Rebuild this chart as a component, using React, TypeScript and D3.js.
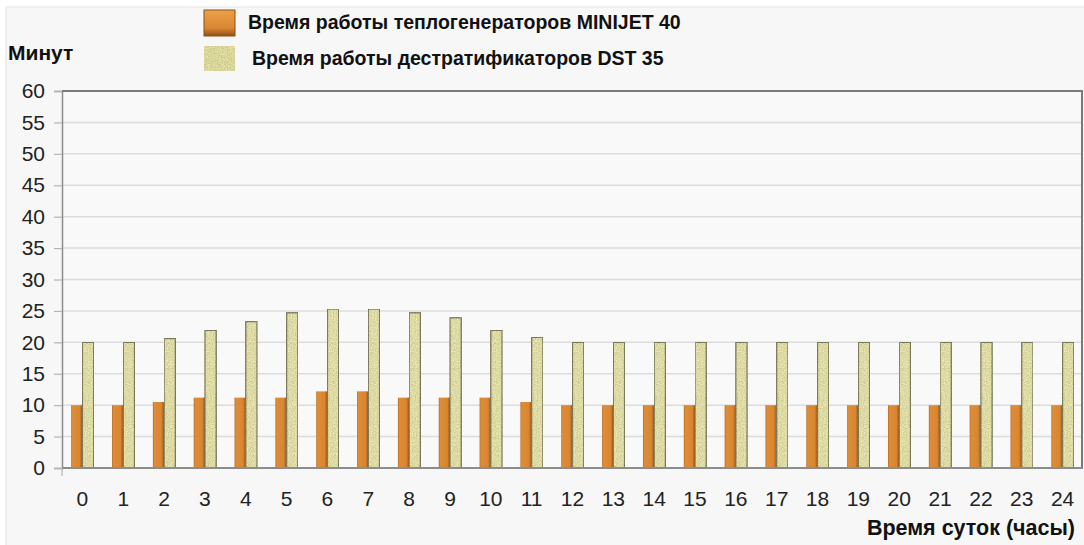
import React, { useEffect, useRef } from "react";
import * as d3 from "d3";

// hours of the day (x categories)
const hours = ["0", "1", "2", "3", "4", "5", "6", "7", "8", "9", "10", "11", "12",
    "13", "14", "15", "16", "17", "18", "19", "20", "21", "22", "23", "24"];

// minutes of work per hour, MINIJET 40 heaters
const minijet = [10, 10, 10.5, 11.2, 11.2, 11.2, 12.2, 12.2, 11.2, 11.2, 11.2, 10.5, 10,
    10, 10, 10, 10, 10, 10, 10, 10, 10, 10, 10, 10];

// minutes of work per hour, DST 35 destratificators
const dst = [20, 20, 20.6, 21.9, 23.3, 24.7, 25.3, 25.3, 24.7, 23.9, 21.9, 20.8, 20,
    20, 20, 20, 20, 20, 20, 20, 20, 20, 20, 20, 20];

const yTicks = [0, 5, 10, 15, 20, 25, 30, 35, 40, 45, 50, 55, 60];

const seriesKeys = ["minijet", "dst"];
const legendLabels = [
    "Время работы теплогенераторов MINIJET 40",
    "Время работы дестратификаторов DST 35"
];

const FONT = "'Liberation Sans', Arial, sans-serif";

export default function App() {
    const chartRef = useRef<SVGSVGElement>(null);

    useEffect(() => {
        drawChart();
    }, []);

    function drawChart() {
        const width = 1084;
        const height = 545;
        const margin = {top: 91, right: 1, bottom: 77, left: 62};

        const svg = d3.select(chartRef.current);
        svg.selectAll("*").remove();
        svg.attr("width", width).attr("height", height);

        // defs: orange shading + grainy texture for the green bars
        const defs = svg.append("defs");
        const grad = defs.append("linearGradient")
            .attr("id", "orangeGrad")
            .attr("x1", "0").attr("x2", "1").attr("y1", "0").attr("y2", "0");
        grad.append("stop").attr("offset", "0%").attr("stop-color", "#b86a22");
        grad.append("stop").attr("offset", "12%").attr("stop-color", "#de8c36");
        grad.append("stop").attr("offset", "75%").attr("stop-color", "#d98632");
        grad.append("stop").attr("offset", "100%").attr("stop-color", "#95561a");

        const swatchGrad = defs.append("linearGradient")
            .attr("id", "orangeSwatch")
            .attr("x1", "0").attr("x2", "0").attr("y1", "0").attr("y2", "1");
        swatchGrad.append("stop").attr("offset", "0%").attr("stop-color", "#eaa14a");
        swatchGrad.append("stop").attr("offset", "70%").attr("stop-color", "#d98632");
        swatchGrad.append("stop").attr("offset", "100%").attr("stop-color", "#8e4f14");

        const filter = defs.append("filter")
            .attr("id", "grain")
            .attr("x", 0).attr("y", 0).attr("width", 1).attr("height", 1);
        filter.append("feTurbulence")
            .attr("type", "fractalNoise")
            .attr("baseFrequency", 0.7)
            .attr("numOctaves", 2)
            .attr("seed", 3)
            .attr("result", "noise");
        filter.append("feColorMatrix")
            .attr("in", "noise")
            .attr("type", "matrix")
            .attr("values", "0.33 0.33 0.33 0 0  0.33 0.33 0.33 0 0  0.33 0.33 0.33 0 0  0 0 0 0 1")
            .attr("result", "gray");
        const stretch = filter.append("feComponentTransfer")
            .attr("in", "gray")
            .attr("result", "grayS");
        ["feFuncR", "feFuncG", "feFuncB"].forEach(f =>
            stretch.append(f).attr("type", "linear").attr("slope", 3).attr("intercept", -1));
        filter.append("feComposite")
            .attr("in", "SourceGraphic")
            .attr("in2", "grayS")
            .attr("operator", "arithmetic")
            .attr("k1", 0.4).attr("k2", 0.78).attr("k3", 0).attr("k4", 0)
            .attr("result", "tex");
        filter.append("feComposite")
            .attr("in", "tex")
            .attr("in2", "SourceGraphic")
            .attr("operator", "in");

        // panel background
        svg.append("rect")
            .attr("width", width).attr("height", height)
            .attr("fill", "#ffffff");
        svg.append("rect")
            .attr("x", 6).attr("y", 7)
            .attr("width", width).attr("height", height)
            .attr("fill", "#f7f7f7")
            .attr("stroke", "#e4e4e4");

        const innerW = width - margin.left - margin.right;
        const innerH = height - margin.top - margin.bottom;

        const x0 = d3.scaleBand()
            .domain(hours)
            .range([margin.left, margin.left + innerW])
            .paddingInner(0.45)
            .paddingOuter(0.225);

        const x1 = d3.scaleBand()
            .domain(seriesKeys)
            .range([0, x0.bandwidth()]);

        const y = d3.scaleLinear()
            .domain([0, 60])
            .range([margin.top + innerH, margin.top]);

        // plot area
        svg.append("rect")
            .attr("x", margin.left).attr("y", margin.top)
            .attr("width", innerW).attr("height", innerH)
            .attr("fill", "#f9f9f9");

        // horizontal grid
        svg.append("g")
            .selectAll("line")
            .data(yTicks.filter(d => d > 0 && d < 60))
            .enter().append("line")
            .attr("x1", margin.left).attr("x2", margin.left + innerW)
            .attr("y1", d => y(d)).attr("y2", d => y(d))
            .attr("stroke", "#dcdcdc")
            .attr("stroke-width", 1.5);

        // y ticks + labels
        const yAxis = svg.append("g")
            .attr("transform", `translate(${margin.left},0)`)
            .call(d3.axisLeft(y).tickValues(yTicks).tickSize(8).tickPadding(9));
        yAxis.select(".domain").attr("stroke", "#8c8c8c").attr("stroke-width", 1.5);
        yAxis.selectAll(".tick line").attr("stroke", "#b4b4b4").attr("stroke-width", 1.2);
        yAxis.selectAll(".tick text")
            .attr("fill", "#222")
            .style("font-family", FONT)
            .style("font-size", "21px");

        // top and right frame
        svg.append("line")
            .attr("x1", margin.left).attr("x2", margin.left + innerW)
            .attr("y1", margin.top).attr("y2", margin.top)
            .attr("stroke", "#7a7a7a").attr("stroke-width", 2);
        svg.append("line")
            .attr("x1", margin.left + innerW - 1).attr("x2", margin.left + innerW - 1)
            .attr("y1", margin.top).attr("y2", margin.top + innerH)
            .attr("stroke", "#7a7a7a").attr("stroke-width", 2);

        // bars
        const groups = svg.append("g")
            .selectAll("g")
            .data(hours)
            .enter().append("g")
            .attr("transform", d => `translate(${x0(d)},0)`);

        groups.append("rect")
            .attr("x", x1("minijet"))
            .attr("width", x1.bandwidth())
            .attr("y", (d, i) => y(minijet[i]))
            .attr("height", (d, i) => y(0) - y(minijet[i]))
            .attr("fill", "url(#orangeGrad)");

        groups.append("rect")
            .attr("x", x1("dst"))
            .attr("width", x1.bandwidth())
            .attr("y", (d, i) => y(dst[i]))
            .attr("height", (d, i) => y(0) - y(dst[i]))
            .attr("fill", "#e0dda6")
            .attr("stroke", "#7e7c5c")
            .attr("stroke-width", 1.3)
            .attr("filter", "url(#grain)");

        // x axis
        svg.append("line")
            .attr("x1", margin.left).attr("x2", margin.left + innerW)
            .attr("y1", y(0)).attr("y2", y(0))
            .attr("stroke", "#8c8c8c").attr("stroke-width", 2);
        svg.append("line")
            .attr("x1", margin.left).attr("x2", margin.left)
            .attr("y1", y(0)).attr("y2", y(0) + 8)
            .attr("stroke", "#b4b4b4").attr("stroke-width", 1.2);

        svg.append("g")
            .selectAll("text")
            .data(hours)
            .enter().append("text")
            .attr("x", d => x0(d) + x0.bandwidth() / 2)
            .attr("y", y(0) + 38)
            .attr("text-anchor", "middle")
            .attr("fill", "#222")
            .style("font-family", FONT)
            .style("font-size", "21px")
            .text(d => d);

        // axis titles
        svg.append("text")
            .attr("x", 8).attr("y", 60)
            .attr("fill", "#111")
            .style("font-family", FONT)
            .style("font-size", "21px")
            .style("font-weight", "bold")
            .text("Минут");

        svg.append("text")
            .attr("x", 1075).attr("y", 535)
            .attr("text-anchor", "end")
            .attr("fill", "#111")
            .style("font-family", FONT)
            .style("font-size", "21.5px")
            .style("font-weight", "bold")
            .text("Время суток (часы)");

        // legend
        const legend = svg.append("g");
        legend.append("rect")
            .attr("x", 204).attr("y", 10).attr("width", 31).attr("height", 26)
            .attr("fill", "url(#orangeSwatch)")
            .attr("stroke", "#8a4f18").attr("stroke-width", 1);
        legend.append("rect")
            .attr("x", 204).attr("y", 46).attr("width", 31).attr("height", 25)
            .attr("fill", "#dcd99c")
            .attr("filter", "url(#grain)");

        legend.selectAll("text.leg")
            .data(legendLabels)
            .enter().append("text")
            .attr("class", "leg")
            .attr("x", (d, i) => i === 0 ? 248 : 252)
            .attr("y", (d, i) => i === 0 ? 29 : 65)
            .attr("fill", "#111")
            .style("font-family", FONT)
            .style("font-size", "19.5px")
            .style("font-weight", "bold")
            .text(d => d);
    }

    return (
        <svg ref={chartRef} style={{position: "absolute", left: 0, top: 0, display: "block"}}></svg>
    );
}
